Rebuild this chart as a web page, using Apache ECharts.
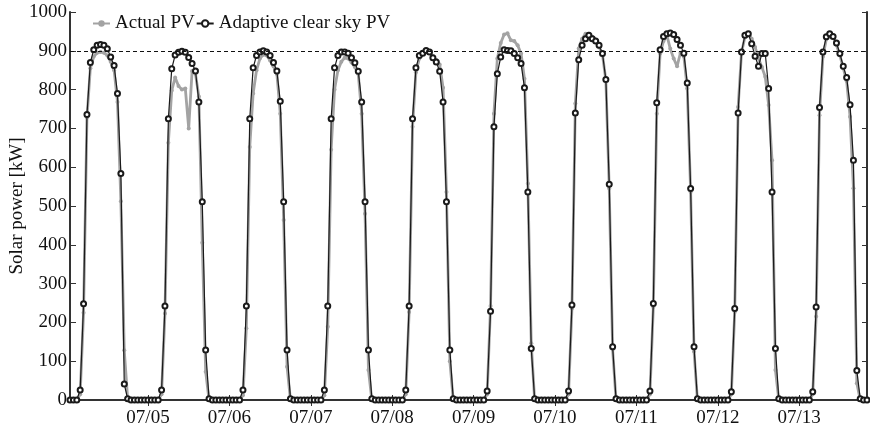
<!DOCTYPE html>
<html>
<head>
<meta charset="utf-8">
<script src="https://cdn.jsdelivr.net/npm/echarts@6/dist/echarts.min.js"></script>
<style>
html,body{margin:0;padding:0;background:#fff;}
#chart{width:870px;height:428px;}
</style>
</head>
<body>
<div id="chart"></div>
<script>
// Day labels (first data point is 07/04 01:00, last 07/13 20:00)
const dayLabels = ['07/04','07/05','07/06','07/07','07/08','07/09','07/10','07/11','07/12','07/13'];
const yTicks = [0,100,200,300,400,500,600,700,800,900,1000];
const refLine = 900;

// Adaptive clear sky PV [kW], hourly values hour 00..23 of each day
const clear0704 = [0,0,0,0,26,248,736,870,903,914,916,914,905,884,862,790,584,41,3,0,0,0,0,0];
const clear0705 = [0,0,0,0,26,242,725,854,889,896,899,896,883,867,848,768,511,129,3,0,0,0,0,0];
const clear0706 = [0,0,0,0,26,242,725,856,888,897,900,897,888,870,848,770,511,129,3,0,0,0,0,0];
const clear0707 = [0,0,0,0,26,242,725,856,888,897,897,894,882,869,847,768,511,129,3,0,0,0,0,0];
const clear0708 = [0,0,0,0,26,242,725,856,888,894,901,897,882,871,847,768,511,129,3,0,0,0,0,0];
const clear0709 = [0,0,0,0,23,229,704,841,884,903,901,900,893,882,867,805,536,133,3,0,0,0,0,0];
const clear0710 = [0,0,0,0,23,245,740,877,914,931,940,931,925,914,893,826,556,137,3,0,0,0,0,0];
const clear0711 = [0,0,0,0,23,249,766,903,937,944,946,942,929,914,894,817,545,137,3,0,0,0,0,0];
const clear0712 = [0,0,0,0,21,236,740,897,940,944,918,886,860,893,893,803,536,133,3,0,0,0,0,0];
const clear0713 = [0,0,0,0,21,240,754,897,936,944,937,920,893,860,831,761,618,76,3,0,0];

// Actual PV [kW]
const actual0704 = [0,0,0,0,15,225,728,855,885,895,897,895,888,872,850,768,512,128,3,0,0,0,0,0];
const actual0705 = [0,0,0,0,15,223,663,798,831,809,800,803,700,848,840,782,405,73,0,0,0,0,0,0];
const actual0706 = [0,0,0,0,12,185,652,790,850,880,890,888,875,860,840,738,464,86,0,0,0,0,0,0];
const actual0707 = [0,0,0,0,12,189,645,800,850,872,882,880,870,858,840,738,480,77,0,0,0,0,0,0];
const actual0708 = [0,0,0,0,15,227,704,845,880,895,898,895,885,876,865,805,536,100,0,0,0,0,0,0];
const actual0709 = [0,0,0,0,15,242,738,880,920,942,945,927,925,914,893,828,558,146,0,0,0,0,0,0];
const actual0710 = [0,0,0,0,15,236,764,906,931,944,944,936,925,910,890,824,545,130,0,0,0,0,0,0];
const actual0711 = [0,0,0,0,15,240,738,893,925,940,905,880,860,895,885,803,536,125,0,0,0,0,0,0];
const actual0712 = [0,0,0,0,15,227,755,895,935,946,931,910,880,858,833,760,618,77,0,0,0,0,0,0];
const actual0713 = [0,0,0,0,15,215,734,885,930,940,935,915,888,855,822,730,546,43,0,0,0];

const clearDays = [clear0704,clear0705,clear0706,clear0707,clear0708,clear0709,clear0710,clear0711,clear0712,clear0713];
const actualDays = [actual0704,actual0705,actual0706,actual0707,actual0708,actual0709,actual0710,actual0711,actual0712,actual0713];

// build hourly categories and flat series (drop 07/04 00:00)
const categories = [];
dayLabels.forEach((d, i) => {
  for (let h = 0; h < clearDays[i].length; h++) categories.push(d + ' ' + String(h).padStart(2,'0') + ':00');
});
const clearSky = [].concat(...clearDays);
const actualPV = [].concat(...actualDays);
const cats = categories.slice(1);
const clearData = clearSky.slice(1);
const actualData = actualPV.slice(1);

const FONT = 'Liberation Serif';
const isMidnight = (idx, val) => val.slice(6) === '00:00';

const chart = echarts.init(document.getElementById('chart'), null, {renderer:'canvas'});
chart.setOption({
  animation: false,
  backgroundColor: '#fff',
  textStyle: {fontFamily: FONT},
  grid: {left: 70, right: 3, top: 12, bottom: 28, containLabel: false, outerBoundsMode: 'none'},
  legend: {
    left: 92, top: 14, padding: 0,
    itemWidth: 17, itemHeight: 8, itemGap: 1,
    textStyle: {fontFamily: FONT, fontSize: 19, color: '#111'},
    data: ['Actual PV', 'Adaptive clear sky PV']
  },
  xAxis: [{
    type: 'category', data: cats, boundaryGap: false, position: 'bottom',
    axisLine: {show: true, lineStyle: {color: '#333', width: 2}},
    axisTick: {show: true, inside: true, length: 5, interval: isMidnight, lineStyle: {color: '#333', width: 1}},
    axisLabel: {show: true, interval: isMidnight, margin: 9, fontFamily: FONT, fontSize: 19, color: '#111',
      formatter: v => v.slice(0,5)},
    splitLine: {show: false}
  }, {
    type: 'category', data: cats, boundaryGap: false, position: 'top',
    axisLine: {show: true, lineStyle: {color: '#333', width: 2}},
    axisTick: {show: true, inside: true, length: 6, interval: isMidnight, lineStyle: {color: '#333', width: 1}},
    axisLabel: {show: false},
    splitLine: {show: false}
  }],
  yAxis: [{
    type: 'value', min: yTicks[0], max: yTicks[yTicks.length-1], interval: 100, position: 'left',
    name: 'Solar power [kW]', nameLocation: 'middle', nameGap: 43, nameMoveOverlap: false,
    nameTextStyle: {fontFamily: FONT, fontSize: 19, color: '#111'},
    axisLine: {show: true, lineStyle: {color: '#333', width: 2}},
    axisTick: {show: true, inside: true, length: 6, lineStyle: {color: '#333', width: 1}},
    axisLabel: {margin: 3, fontFamily: FONT, fontSize: 19, color: '#111', formatter: v => String(v)},
    splitLine: {show: false}
  }, {
    type: 'value', min: yTicks[0], max: yTicks[yTicks.length-1], interval: 100, position: 'right',
    axisLine: {show: true, lineStyle: {color: '#333', width: 2}},
    axisTick: {show: true, inside: true, length: 5, lineStyle: {color: '#333', width: 1}},
    axisLabel: {show: false},
    splitLine: {show: false}
  }],
  series: [{
    name: 'Actual PV', type: 'line', data: actualData,
    symbol: 'circle', symbolSize: 4, showAllSymbol: true,
    lineStyle: {color: '#a3a3a3', width: 2.8},
    itemStyle: {color: '#a3a3a3'},
    z: 2,
    markLine: {
      silent: true, symbol: ['none','none'], label: {show: false},
      lineStyle: {color: '#111', width: 1, type: [4,3]},
      data: [{yAxis: refLine}]
    }
  }, {
    name: 'Adaptive clear sky PV', type: 'line', data: clearData,
    symbol: 'emptyCircle', symbolSize: 5, showAllSymbol: true,
    lineStyle: {color: '#1a1a1a', width: 1.2},
    itemStyle: {color: '#1a1a1a', borderWidth: 1},
    z: 3
  }]
});
</script>
</body>
</html>
